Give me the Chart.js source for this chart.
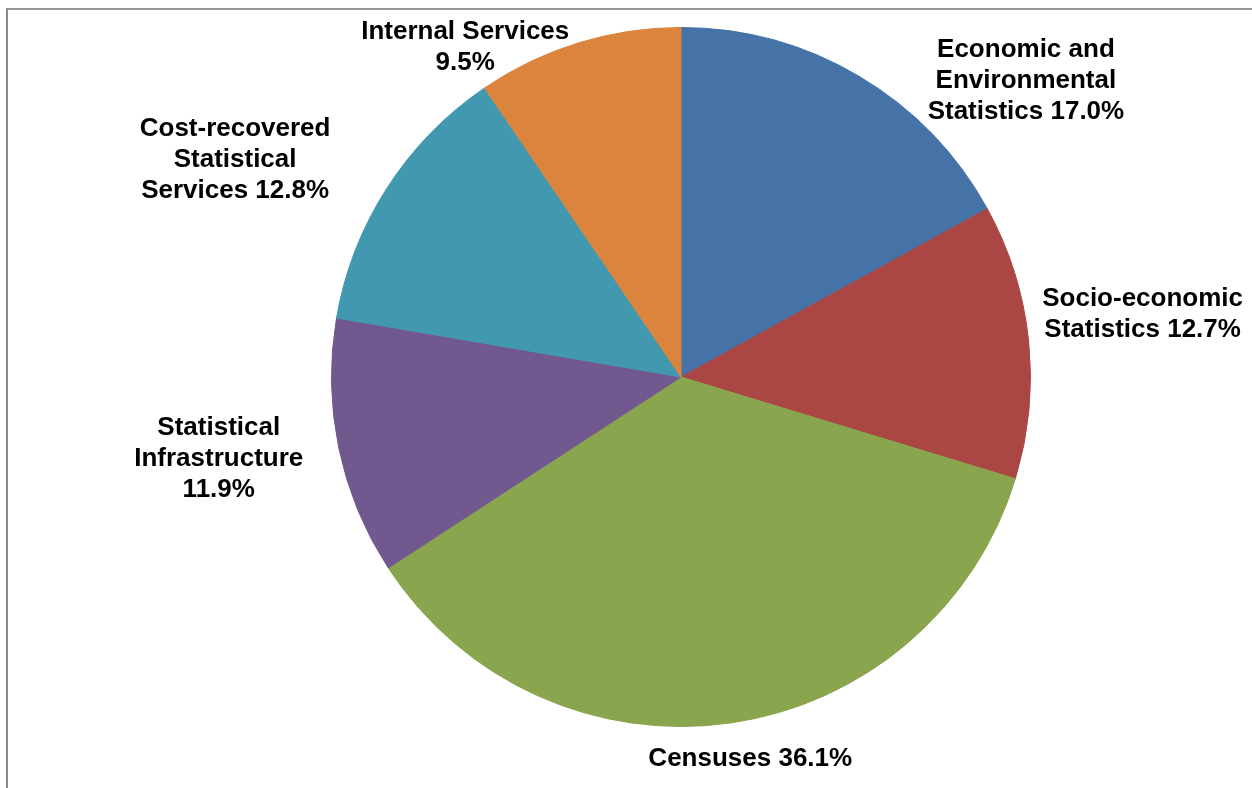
<!DOCTYPE html>
<html>
<head>
<meta charset="utf-8">
<script src="https://cdn.jsdelivr.net/npm/chart.js@4/dist/chart.umd.min.js"></script>
<style>
  html, body { margin: 0; padding: 0; background: #ffffff; overflow: hidden; }
  #frame { position: absolute; left: 6px; top: 8px; width: 1300px; height: 900px;
           border-left: 2px solid #8a8a8a; border-top: 2px solid #9a9a9a; }
  #c { position: absolute; left: 0; top: 0; }
</style>
</head>
<body>
<div id="frame"></div>
<canvas id="c" width="1252" height="788"></canvas>
<script>
// ---- data ----
const categories = [
  "Economic and Environmental Statistics",
  "Socio-economic Statistics",
  "Censuses",
  "Statistical Infrastructure",
  "Cost-recovered Statistical Services",
  "Internal Services"
];
const values = [17.0, 12.7, 36.1, 11.9, 12.8, 9.5];
// label templates ({p} = percentage)
const labelTemplates = [
  "Economic and\nEnvironmental\nStatistics {p}",
  "Socio-economic\nStatistics {p}",
  "Censuses {p}",
  "Statistical\nInfrastructure\n{p}",
  "Cost-recovered\nStatistical\nServices {p}",
  "Internal Services\n{p}"
];

// ---- styles ----
const colors = ["#4572A7", "#AA4643", "#89A54E", "#71588F", "#4198AF", "#DB843D"];
// label nudges relative to the outer mid-point of each slice (px)
const labelNudge = [[167, 5], [114, -27], [20, 36], [-120, 11], [-152, -28], [-113, 4]];

const labelPlugin = {
  id: 'outsideLabels',
  afterDatasetsDraw(chart) {
    const ctx = chart.ctx;
    const meta = chart.getDatasetMeta(0);
    ctx.save();
    ctx.font = "bold 26px 'Liberation Sans', Arial, sans-serif";
    ctx.fillStyle = "#000000";
    ctx.textAlign = "center";
    ctx.textBaseline = "middle";
    const lh = 31;
    meta.data.forEach((arc, i) => {
      const p = arc.getProps(['x', 'y', 'startAngle', 'endAngle', 'outerRadius'], true);
      const mid = (p.startAngle + p.endAngle) / 2;
      const r = p.outerRadius;
      const ax = p.x + Math.cos(mid) * r + labelNudge[i][0];
      const ay = p.y + Math.sin(mid) * r + labelNudge[i][1];
      const txt = labelTemplates[i].replace("{p}", values[i].toFixed(1) + "%");
      const lines = txt.split("\n");
      lines.forEach((ln, k) => {
        ctx.fillText(ln, ax, ay + (k - (lines.length - 1) / 2) * lh);
      });
    });
    ctx.restore();
  }
};

new Chart(document.getElementById('c'), {
  type: 'pie',
  data: {
    labels: categories,
    datasets: [{
      data: values,
      backgroundColor: colors,
      borderColor: colors,
      borderWidth: 1
    }]
  },
  options: {
    responsive: false,
    animation: false,
    layout: { padding: { left: 331, right: 221, top: 27, bottom: 61 } },
    plugins: {
      legend: { display: false },
      tooltip: { enabled: false }
    }
  },
  plugins: [labelPlugin]
});
</script>
</body>
</html>
